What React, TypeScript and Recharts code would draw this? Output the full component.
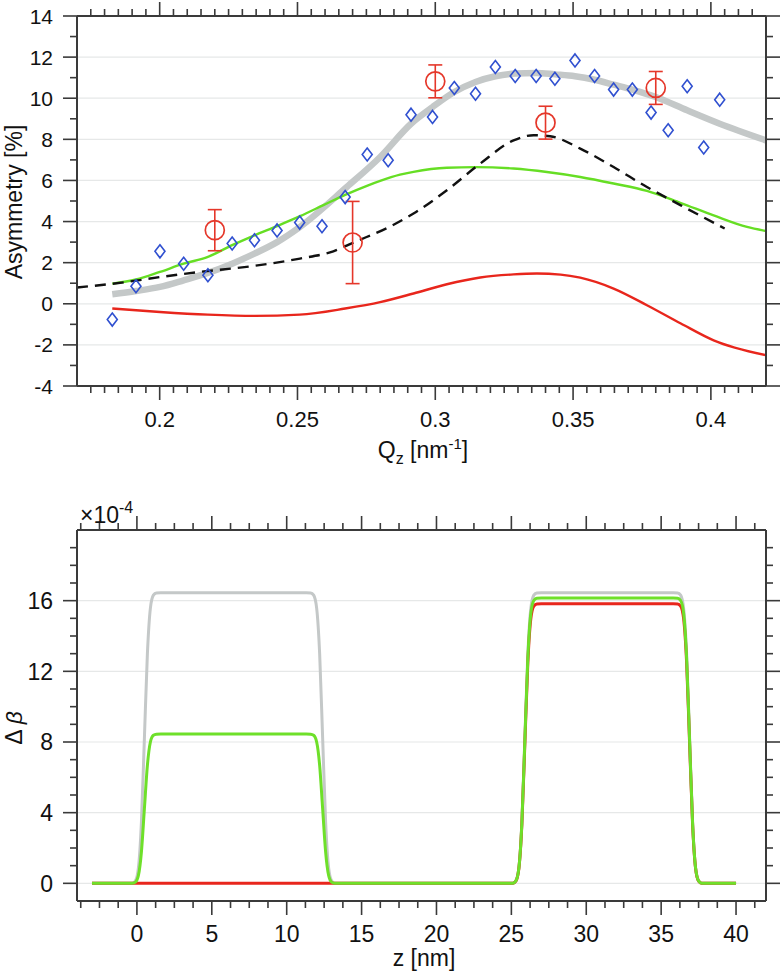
import React from "react";
import { ComposedChart, Line, Scatter, XAxis, YAxis, ReferenceLine, ErrorBar } from "recharts";

// ---- top panel: asymmetry vs Qz ----
const qDiamond = [0.1828, 0.1914, 0.2001, 0.2087, 0.2175, 0.2263, 0.2344, 0.2426, 0.2508, 0.2589, 0.2673, 0.2753, 0.2829, 0.2912, 0.299, 0.3069, 0.3146, 0.3218, 0.329, 0.3366, 0.3434, 0.3507, 0.3578, 0.3647, 0.3715, 0.3783, 0.3845, 0.3914, 0.3974, 0.4032];
const asymDiamond = [-0.77, 0.85, 2.55, 1.95, 1.39, 2.93, 3.09, 3.57, 3.95, 3.77, 5.19, 7.26, 6.98, 9.2, 9.09, 10.5, 10.22, 11.52, 11.08, 11.08, 10.95, 11.84, 11.08, 10.42, 10.42, 9.3, 8.44, 10.58, 7.6, 9.93];

const qCircle = [0.22, 0.27, 0.3, 0.34, 0.38];
const asymCircle = [3.58, 2.98, 10.82, 8.81, 10.5];
const errCircle = [1.0, 2.0, 0.8, 0.8, 0.8];

const qFit = [0.1828, 0.1914, 0.2001, 0.2087, 0.2175, 0.2263, 0.2344, 0.2426, 0.2508, 0.2679, 0.28, 0.2912, 0.299, 0.3069, 0.3146, 0.3218, 0.329, 0.3366, 0.3434, 0.3507, 0.3578, 0.3647, 0.3715, 0.38, 0.3914, 0.4032, 0.42];
const asymFit = [0.46, 0.62, 0.82, 1.14, 1.5, 1.95, 2.44, 3.0, 3.73, 5.68, 7.14, 8.76, 9.57, 10.3, 10.79, 11.07, 11.2, 11.23, 11.16, 11.07, 10.9, 10.66, 10.42, 10.06, 9.41, 8.76, 7.95];

const qGreen = [0.1828, 0.1914, 0.2001, 0.2087, 0.2175, 0.2263, 0.2344, 0.2426, 0.2509, 0.2594, 0.2673, 0.2752, 0.28, 0.2872, 0.2921, 0.3042, 0.3146, 0.3284, 0.3405, 0.3526, 0.3647, 0.3768, 0.3891, 0.401, 0.4131, 0.42];
const asymGreen = [0.98, 1.18, 1.55, 1.95, 2.28, 2.85, 3.33, 3.78, 4.26, 4.8, 5.3, 5.74, 5.98, 6.28, 6.42, 6.62, 6.65, 6.58, 6.41, 6.17, 5.85, 5.49, 4.9, 4.3, 3.74, 3.54];

const qDashed = [0.17, 0.188, 0.2001, 0.2146, 0.234, 0.2509, 0.263, 0.2703, 0.2835, 0.2921, 0.3042, 0.3163, 0.3284, 0.3357, 0.3417, 0.3526, 0.3647, 0.3768, 0.3891, 0.405];
const asymDashed = [0.79, 1.06, 1.3, 1.55, 1.84, 2.2, 2.55, 2.98, 3.75, 4.39, 5.52, 6.82, 7.95, 8.2, 8.15, 7.55, 6.65, 5.68, 4.79, 3.66];

const qRed = [0.1828, 0.2001, 0.2175, 0.2344, 0.2508, 0.2673, 0.28, 0.2921, 0.3042, 0.3163, 0.3284, 0.3369, 0.3455, 0.3526, 0.3647, 0.3768, 0.3891, 0.401, 0.42];
const asymRed = [-0.23, -0.4, -0.53, -0.59, -0.53, -0.23, 0.08, 0.5, 0.95, 1.28, 1.43, 1.47, 1.42, 1.27, 0.74, -0.07, -0.96, -1.78, -2.5];

// ---- bottom panel: delta beta profile (x 1e-4) vs z ----
const zProfile = [-3, -0.5, -0.3, -0.1, 0.1, 0.3, 0.5, 0.7, 0.9, 1.1, 1.3, 1.6, 11.3, 11.6, 11.8, 12.0, 12.2, 12.4, 12.6, 12.8, 13.0, 13.2, 13.5, 24.8, 25.1, 25.3, 25.5, 25.7, 25.9, 26.1, 26.3, 26.5, 26.7, 27.0, 35.8, 36.1, 36.3, 36.5, 36.7, 36.9, 37.1, 37.3, 37.5, 37.7, 38.0, 40];
const betaGray = [0, 0, 0.01, 0.14, 0.87, 3.45, 8.22, 13.0, 15.58, 16.31, 16.44, 16.45, 16.45, 16.44, 16.31, 15.58, 13.0, 8.22, 3.45, 0.87, 0.14, 0.01, 0, 0, 0.01, 0.14, 0.87, 3.45, 8.22, 13.0, 15.58, 16.31, 16.44, 16.45, 16.45, 16.44, 16.31, 15.58, 13.0, 8.22, 3.45, 0.87, 0.14, 0.01, 0, 0];
const betaGreen = [0, 0, 0.005, 0.07, 0.45, 1.77, 4.23, 6.68, 8.0, 8.38, 8.44, 8.45, 8.45, 8.44, 8.38, 8.0, 6.68, 4.23, 1.77, 0.45, 0.07, 0.005, 0, 0, 0.01, 0.14, 0.86, 3.39, 8.08, 12.76, 15.29, 16.01, 16.14, 16.15, 16.15, 16.14, 16.01, 15.29, 12.76, 8.08, 3.39, 0.86, 0.14, 0.01, 0, 0];
const betaRed = [0, 0, 0, 0, 0, 0, 0, 0, 0, 0, 0, 0, 0, 0, 0, 0, 0, 0, 0, 0, 0, 0, 0, 0, 0.01, 0.13, 0.84, 3.32, 7.91, 12.5, 14.98, 15.69, 15.81, 15.82, 15.82, 15.81, 15.69, 14.98, 12.5, 7.91, 3.32, 0.84, 0.13, 0.01, 0, 0];

// tick labels
const qMajor = [0.2, 0.25, 0.3, 0.35, 0.4];
const asymMajor = [-4, -2, 0, 2, 4, 6, 8, 10, 12, 14];
const asymGrid = [-2, 0, 2, 4, 6, 8, 10, 12];
const zMajor = [0, 5, 10, 15, 20, 25, 30, 35, 40];
const betaMajor = [0, 4, 8, 12, 16];

const steps = (from: number, to: number, step: number) => {
  const out: number[] = [];
  for (let v = from; v <= to + step / 2; v += step) out.push(Math.round(v * 10000) / 10000);
  return out;
};
const qTicks = steps(0.175, 0.415, 0.005);
const asymTicks = steps(-4, 14, 1);
const zTicks = steps(-3.75, 41.25, 1.25);
const betaTicks = steps(0, 19, 1);

const pts = (xs: number[], ys: number[]) => xs.map((x, i) => ({ x, y: ys[i] }));

const FONT = '"Liberation Sans", Arial, Helvetica, sans-serif';
const AXIS = "#3a3a3a";
const GRID = "#e6e8e8";

type Side = "bottom" | "top" | "left" | "right";

function AxisTick(props: any) {
  const { x = 0, y = 0, payload, side, majors, label, size = 21 } = props as { x: number; y: number; payload: { value: number }; side: Side; majors: number[]; label?: boolean; size?: number };
  const v = payload ? payload.value : 0;
  const major = majors.some((m) => Math.abs(m - v) < 1e-6);
  const len = major ? 14 : 7;
  const dx = side === "left" ? -len : side === "right" ? len : 0;
  const dy = side === "bottom" ? len : side === "top" ? -len : 0;
  return (
    <g>
      <line x1={x} y1={y} x2={x + dx} y2={y + dy} stroke={AXIS} strokeWidth={1.6} />
      {label && major && side === "bottom" && (
        <text x={x} y={y + 41} textAnchor="middle" fontSize={size} fontFamily={FONT} fill="#111">
          {String(v)}
        </text>
      )}
      {label && major && side === "left" && (
        <text x={x - 24} y={y} dy="0.36em" textAnchor="end" fontSize={size} fontFamily={FONT} fill="#111">
          {String(v)}
        </text>
      )}
    </g>
  );
}

const tickFor = (side: Side, majors: number[], label = false, size = 21) => (p: any) => <AxisTick {...p} side={side} majors={majors} label={label} size={size} />;

function Diamond(p: any) {
  const { cx, cy } = p;
  return <path d={`M${cx},${cy - 6.5}L${cx + 5},${cy}L${cx},${cy + 6.5}L${cx - 5},${cy}Z`} fill="none" stroke="#3050d0" strokeWidth={1.6} />;
}

function OpenCircle(p: any) {
  const { cx, cy } = p;
  return <circle cx={cx} cy={cy} r={9.5} fill="none" stroke="#e5372a" strokeWidth={1.7} />;
}

// axes get 1px bands (a 0px band is not drawn); margins absorb that pixel
const axisCommon = { tickSize: 0, tickMargin: 0, tickLine: false, interval: 0 as const, allowDataOverflow: true, type: "number" as const, axisLine: { stroke: AXIS, strokeWidth: 2 } };

export default function App() {
  const circleData = qCircle.map((x, i) => ({ x, y: asymCircle[i], err: errCircle[i] }));
  return (
    <div style={{ position: "absolute", left: 0, top: 0, width: 780, height: 972, background: "#fff", fontFamily: FONT }}>
      <div style={{ position: "absolute", left: 0, top: 0 }}>
        <ComposedChart width={780} height={480} margin={{ top: 15, right: 13, bottom: 93, left: 76 }}>
          <XAxis {...axisCommon} dataKey="x" domain={[0.17, 0.42]} ticks={qTicks} height={1} tick={tickFor("bottom", qMajor, true, 22)} />
          <XAxis {...axisCommon} xAxisId="top" orientation="top" dataKey="x" domain={[0.17, 0.42]} ticks={qTicks} height={1} tick={tickFor("top", qMajor)} />
          <YAxis {...axisCommon} dataKey="y" domain={[-4, 14]} ticks={asymTicks} width={1} tick={tickFor("left", asymMajor, true, 21)} />
          <YAxis {...axisCommon} yAxisId="right" orientation="right" dataKey="y" domain={[-4, 14]} ticks={asymTicks} width={1} tick={tickFor("right", asymMajor)} />
          {asymGrid.map((g) => (
            <ReferenceLine key={g} y={g} stroke={GRID} strokeWidth={1.2} />
          ))}
          <Line xAxisId="top" yAxisId="right" data={pts(qFit, asymFit)} dataKey="y" type="monotone" stroke="#c4c8c8" strokeWidth={6.5} dot={false} isAnimationActive={false} />
          <Line data={pts(qGreen, asymGreen)} dataKey="y" type="monotone" stroke="#66de24" strokeWidth={2.4} dot={false} isAnimationActive={false} />
          <Line data={pts(qDashed, asymDashed)} dataKey="y" type="monotone" stroke="#111" strokeWidth={2.4} strokeDasharray="11 7" dot={false} isAnimationActive={false} />
          <Line data={pts(qRed, asymRed)} dataKey="y" type="monotone" stroke="#e8261c" strokeWidth={2.4} dot={false} isAnimationActive={false} />
          <Scatter data={pts(qDiamond, asymDiamond)} dataKey="y" shape={(p: any) => <Diamond {...p} />} isAnimationActive={false} />
          <Scatter data={circleData} dataKey="y" shape={(p: any) => <OpenCircle {...p} />} isAnimationActive={false}>
            <ErrorBar dataKey="err" direction="y" width={7} stroke="#e5372a" strokeWidth={1.6} />
          </Scatter>
        </ComposedChart>
      </div>
      <div style={{ position: "absolute", left: 0, top: 480 }}>
        <ComposedChart width={780} height={492} margin={{ top: 49, right: 13, bottom: 70, left: 76 }}>
          <XAxis {...axisCommon} dataKey="x" domain={[-4, 42]} ticks={zTicks} height={1} tick={tickFor("bottom", zMajor, true, 23)} />
          <XAxis {...axisCommon} xAxisId="top" orientation="top" dataKey="x" domain={[-4, 42]} ticks={zTicks} height={1} tick={tickFor("top", zMajor)} />
          <YAxis {...axisCommon} dataKey="y" domain={[-1, 20]} ticks={betaTicks} width={1} tick={tickFor("left", betaMajor, true, 23)} />
          <YAxis {...axisCommon} yAxisId="right" orientation="right" dataKey="y" domain={[-1, 20]} ticks={betaTicks} width={1} tick={tickFor("right", betaMajor)} />
          {betaMajor.map((g) => (
            <ReferenceLine key={g} y={g} stroke={GRID} strokeWidth={1.2} />
          ))}
          <Line xAxisId="top" yAxisId="right" data={pts(zProfile, betaGray)} dataKey="y" type="monotone" stroke="#c4c8c8" strokeWidth={3} dot={false} isAnimationActive={false} />
          <Line data={pts(zProfile, betaRed)} dataKey="y" type="monotone" stroke="#e8261c" strokeWidth={3} dot={false} isAnimationActive={false} />
          <Line data={pts(zProfile, betaGreen)} dataKey="y" type="monotone" stroke="#6ee02a" strokeWidth={3} dot={false} isAnimationActive={false} />
        </ComposedChart>
      </div>
      <svg width={780} height={972} style={{ position: "absolute", left: 0, top: 0, pointerEvents: "none" }} fontFamily={FONT} fill="#111">
        <text transform="translate(22,202) rotate(-90)" textAnchor="middle" fontSize={23}>
          Asymmetry [%]
        </text>
        <text x={423} y={458} textAnchor="middle" fontSize={23}>
          Q<tspan fontSize={16} dy={6}>z</tspan>
          <tspan dy={-6}> [nm</tspan>
          <tspan fontSize={15} dy={-9}>-1</tspan>
          <tspan dy={9}>]</tspan>
        </text>
        <text x={80} y={523} fontSize={23}>
          ×10<tspan fontSize={16} dy={-10}>-4</tspan>
        </text>
        <text transform="translate(22,728) rotate(-90)" textAnchor="middle" fontSize={23}>
          Δ <tspan fontStyle="italic">β</tspan>
        </text>
        <text x={424} y={966} textAnchor="middle" fontSize={23}>
          z [nm]
        </text>
      </svg>
    </div>
  );
}
